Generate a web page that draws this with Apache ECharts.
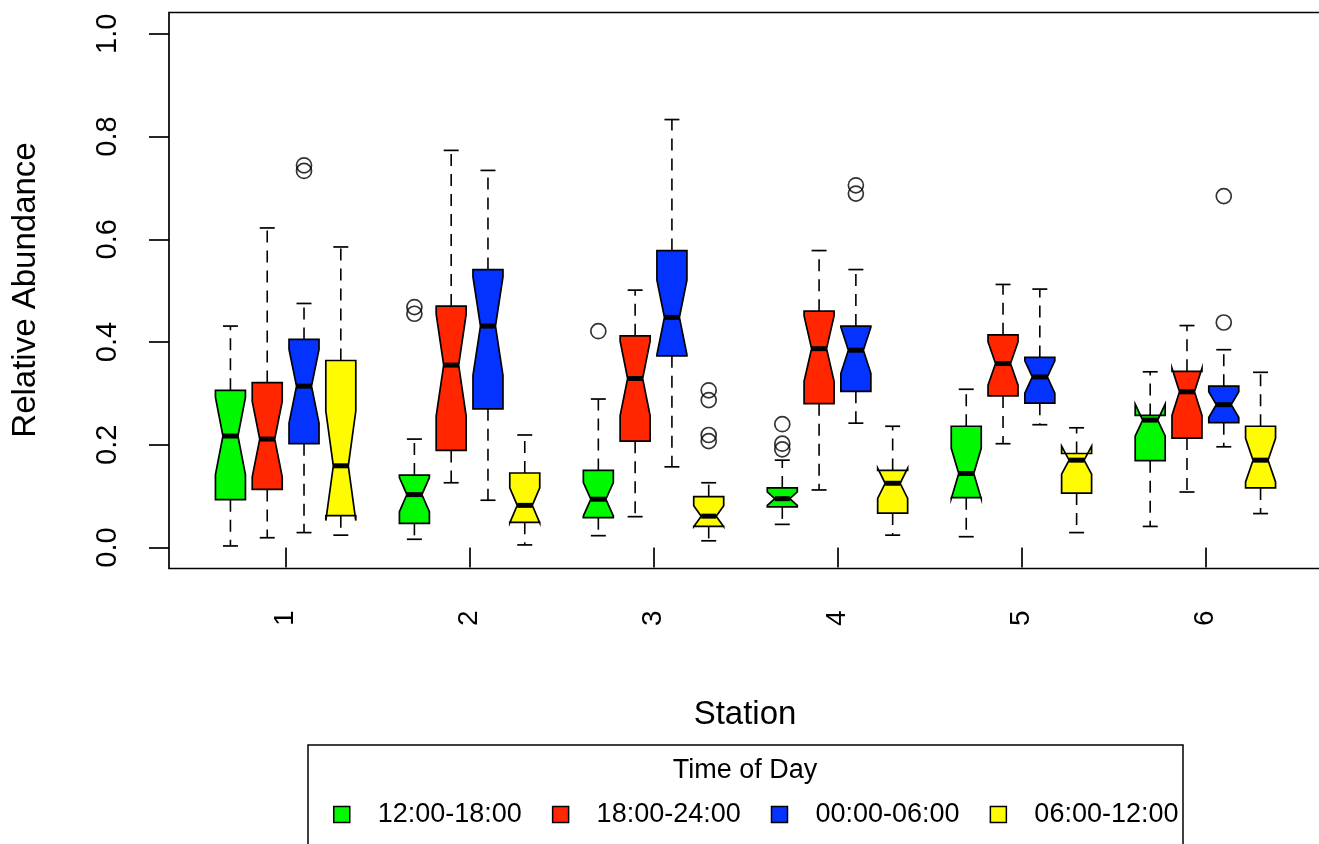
<!DOCTYPE html>
<html><head><meta charset="utf-8">
<script src="https://cdn.jsdelivr.net/npm/echarts@6/dist/echarts.min.js"></script>
<style>html,body{margin:0;padding:0;background:#fff}#c{width:1319px;height:844px}</style>
</head><body><div id="c"></div>
<script>
// ---------- DATA ----------
const stations = [1, 2, 3, 4, 5, 6];
const seriesNames = ['12:00-18:00', '18:00-24:00', '00:00-06:00', '06:00-12:00'];
const seriesColors = ['#00F900', '#FF2600', '#0433FF', '#FFFB00'];
const yTicks = [0, 0.2, 0.4, 0.6, 0.8, 1.0];
const nPerBox = 20; // observations per box (used for notch width, as in R)

// each row: [lower whisker, Q1, median, Q3, upper whisker], one row per station
const green = [
  [0.003, 0.093, 0.217, 0.306, 0.431],
  [0.016, 0.047, 0.103, 0.141, 0.211],
  [0.023, 0.058, 0.094, 0.150, 0.289],
  [0.045, 0.079, 0.095, 0.116, 0.170],
  [0.021, 0.097, 0.144, 0.236, 0.308],
  [0.041, 0.169, 0.248, 0.257, 0.342]
];
const red = [
  [0.019, 0.113, 0.211, 0.321, 0.622],
  [0.126, 0.189, 0.355, 0.470, 0.773],
  [0.060, 0.207, 0.329, 0.412, 0.501],
  [0.112, 0.280, 0.387, 0.460, 0.578],
  [0.202, 0.295, 0.358, 0.414, 0.512],
  [0.108, 0.213, 0.303, 0.343, 0.432]
];
const blue = [
  [0.029, 0.202, 0.314, 0.405, 0.475],
  [0.092, 0.270, 0.431, 0.541, 0.734],
  [0.157, 0.373, 0.448, 0.578, 0.833],
  [0.242, 0.304, 0.384, 0.431, 0.541],
  [0.239, 0.281, 0.332, 0.370, 0.503],
  [0.196, 0.243, 0.278, 0.314, 0.385]
];
const yellow = [
  [0.024, 0.062, 0.159, 0.364, 0.585],
  [0.005, 0.049, 0.082, 0.145, 0.219],
  [0.013, 0.041, 0.061, 0.099, 0.126],
  [0.024, 0.067, 0.125, 0.150, 0.236],
  [0.029, 0.106, 0.170, 0.183, 0.233],
  [0.066, 0.116, 0.170, 0.236, 0.341]
];
// outliers: [station, value]
const greenOut = [[2, 0.468], [2, 0.455], [3, 0.421], [4, 0.240], [4, 0.202], [4, 0.191]];
const redOut = [];
const blueOut = [[1, 0.744], [1, 0.733], [4, 0.705], [4, 0.689], [6, 0.684], [6, 0.438]];
const yellowOut = [[3, 0.306], [3, 0.287], [3, 0.219], [3, 0.207]];

// ---------- LAYOUT ----------
const boxStats = [green, red, blue, yellow];
const outliers = [greenOut, redOut, blueOut, yellowOut];
const OFFSETS = [-0.3, -0.1, 0.1, 0.3];
const BOXW = 0.163;
const FONT = "'Liberation Sans', Arial, Helvetica, sans-serif";

function boxRender(params, api) {
  const x = api.value(0);
  const lo = api.value(1), q1 = api.value(2), med = api.value(3), q3 = api.value(4), hi = api.value(5);
  const half = 1.58 * (q3 - q1) / Math.sqrt(nPerBox);
  const cLo = med - half, cHi = med + half;
  const cx = api.coord([x, 0])[0];
  const w = api.size([BOXW, 0])[0];
  const hw = w / 2, qw = w / 4;
  const Y = v => api.coord([x, v])[1];
  const color = api.visual('color');
  const dash = {stroke: '#000', lineWidth: 1.6, lineDash: [12, 8]};
  const solid = {stroke: '#000', lineWidth: 1.7};
  return {
    type: 'group',
    children: [
      {type: 'line', shape: {x1: cx, y1: Y(q3), x2: cx, y2: Y(hi)}, style: dash},
      {type: 'line', shape: {x1: cx, y1: Y(q1), x2: cx, y2: Y(lo)}, style: dash},
      {type: 'line', shape: {x1: cx - qw, y1: Y(hi), x2: cx + qw, y2: Y(hi)}, style: solid},
      {type: 'line', shape: {x1: cx - qw, y1: Y(lo), x2: cx + qw, y2: Y(lo)}, style: solid},
      {type: 'polygon', shape: {points: [
        [cx - hw, Y(q1)], [cx + hw, Y(q1)], [cx + hw, Y(cLo)], [cx + qw, Y(med)], [cx + hw, Y(cHi)],
        [cx + hw, Y(q3)], [cx - hw, Y(q3)], [cx - hw, Y(cHi)], [cx - qw, Y(med)], [cx - hw, Y(cLo)]
      ]}, style: {fill: color, stroke: '#000', lineWidth: 1.7}},
      {type: 'line', shape: {x1: cx - qw, y1: Y(med), x2: cx + qw, y2: Y(med)}, style: {stroke: '#000', lineWidth: 5}}
    ]
  };
}

const series = [];
boxStats.forEach((arr, i) => {
  series.push({
    name: seriesNames[i],
    type: 'custom',
    renderItem: boxRender,
    itemStyle: {color: seriesColors[i], borderColor: '#000'},
    encode: {x: 0, y: [1, 2, 3, 4, 5]},
    data: arr.map((r, k) => [stations[k] + OFFSETS[i]].concat(r)),
    z: 2
  });
});
outliers.forEach((arr, i) => {
  series.push({
    name: 'outliers-' + i,
    type: 'scatter',
    symbol: 'circle',
    symbolSize: 15,
    itemStyle: {color: 'rgba(0,0,0,0)', borderColor: '#000', borderWidth: 1.7},
    data: arr.map(p => [p[0] + OFFSETS[i], p[1]]),
    z: 3
  });
});

const chart = echarts.init(document.getElementById('c'), null, {renderer: 'canvas'});
chart.setOption({
  animation: false,
  backgroundColor: '#fff',
  grid: {left: 169, top: 12.5, width: 1153, height: 556, show: true, borderColor: '#000', borderWidth: 1.7,
    backgroundColor: 'transparent', containLabel: false, outerBoundsMode: 'none'},
  xAxis: {
    type: 'value', min: 0.366, max: 6.634,
    axisLine: {show: false},
    splitLine: {show: false},
    axisTick: {show: true, length: 20, inside: false, customValues: stations, lineStyle: {color: '#000', width: 1.7}},
    axisLabel: {show: true, customValues: stations, rotate: 90, margin: 42, fontSize: 28, color: '#000', fontFamily: FONT,
      formatter: v => String(v)}
  },
  yAxis: {
    type: 'value', min: -0.0409, max: 1.0414,
    axisLine: {show: false},
    splitLine: {show: false},
    axisTick: {show: true, length: 20, inside: false, customValues: yTicks, lineStyle: {color: '#000', width: 1.7}},
    axisLabel: {show: true, customValues: yTicks, rotate: 90, margin: 47, fontSize: 29, color: '#000', fontFamily: FONT,
      formatter: v => v.toFixed(1)}
  },
  legend: {
    data: seriesNames,
    left: 328, top: 796,
    itemWidth: 16, itemHeight: 16, itemGap: 30,
    icon: 'rect',
    itemStyle: {borderColor: '#000', borderWidth: 1.5},
    textStyle: {fontSize: 27, color: '#000', fontFamily: FONT, padding: [0, 0, 0, 23]}
  },
  graphic: [
    {type: 'text', style: {text: 'Relative Abundance', font: '33px ' + FONT, fill: '#000', textAlign: 'center', textVerticalAlign: 'middle'},
      x: 26, y: 290, rotation: Math.PI / 2},
    {type: 'text', style: {text: 'Station', font: '33px ' + FONT, fill: '#000', textAlign: 'center', textVerticalAlign: 'middle'},
      x: 745, y: 715},
    {type: 'rect', shape: {x: 308, y: 745, width: 875, height: 140}, style: {fill: 'none', stroke: '#000', lineWidth: 1.5}},
    {type: 'text', style: {text: 'Time of Day', font: '27px ' + FONT, fill: '#000', textAlign: 'center', textVerticalAlign: 'middle'},
      x: 745, y: 771}
  ],
  series: series
});
</script></body></html>
